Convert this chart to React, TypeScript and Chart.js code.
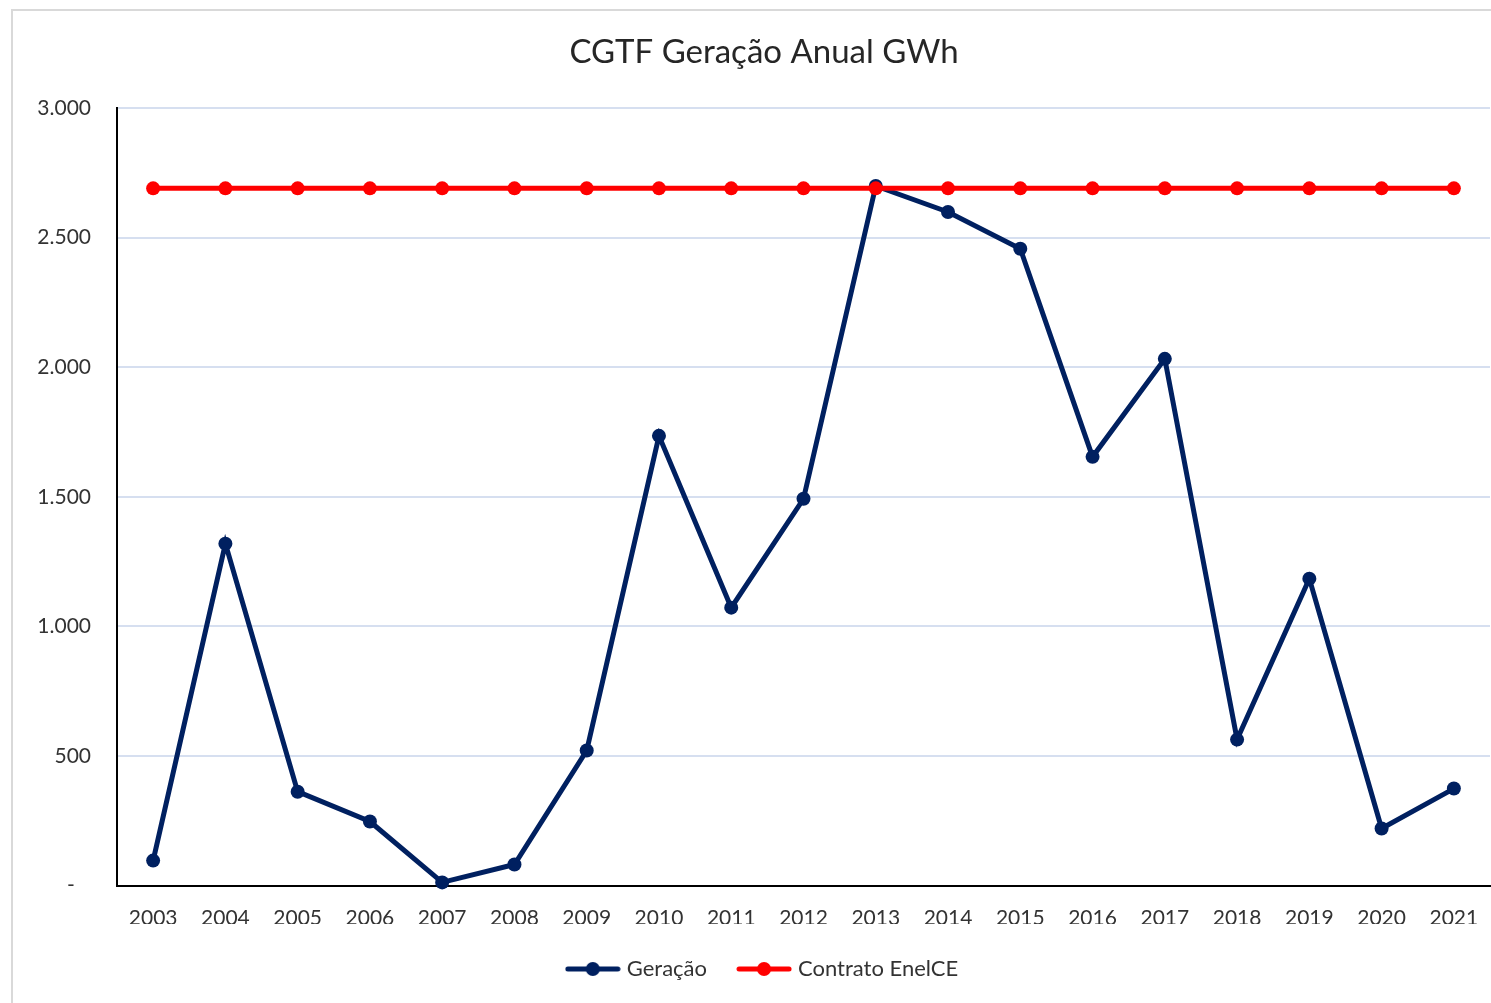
import React, { useEffect, useRef } from "react";
import { Chart, registerables } from "chart.js";

Chart.register(...registerables);

const categories = ["2003","2004","2005","2006","2007","2008","2009","2010","2011","2012","2013","2014","2015","2016","2017","2018","2019","2020","2021"];
const geracao = [96, 1319, 362, 247, 12, 81, 521, 1735, 1072, 1492, 2699, 2599, 2457, 1654, 2032, 563, 1184, 220, 374];
const contrato = [2690, 2690, 2690, 2690, 2690, 2690, 2690, 2690, 2690, 2690, 2690, 2690, 2690, 2690, 2690, 2690, 2690, 2690, 2690];
const seriesNames = ["Geração", "Contrato EnelCE"];
const seriesColors = ["#002060", "#FF0000"];
const titleText = "CGTF Geração Anual GWh";
const yMin = 0;
const yMax = 3000;
const yStep = 500;

const FONT = "Lato, 'Open Sans', sans-serif";

function fmt(v: number): string {
  if (v === 0) return "-   ";
  return String(v).replace(/\B(?=(\d{3})+(?!\d))/g, ".");
}

function makeIcon(color: string): HTMLCanvasElement {
  const c = document.createElement("canvas");
  c.width = 56;
  c.height = 16;
  const ctx = c.getContext("2d")!;
  ctx.strokeStyle = color;
  ctx.fillStyle = color;
  ctx.lineWidth = 5;
  ctx.lineCap = "round";
  ctx.beginPath();
  ctx.moveTo(3, 8);
  ctx.lineTo(53, 8);
  ctx.stroke();
  ctx.beginPath();
  ctx.arc(28, 8, 7, 0, Math.PI * 2);
  ctx.fill();
  return c;
}

export default function App() {
  const ref = useRef<HTMLCanvasElement | null>(null);

  useEffect(() => {
    if (!ref.current) return;
    const icons = seriesColors.map(makeIcon);
    const chart = new Chart(ref.current, {
      type: "line",
      data: {
        labels: categories,
        datasets: [
          {
            label: seriesNames[0],
            data: geracao,
            borderColor: seriesColors[0],
            backgroundColor: seriesColors[0],
            borderWidth: 5,
            pointRadius: 7,
            pointHoverRadius: 7,
            pointBorderWidth: 0,
            tension: 0,
            order: 1,
            clip: false as any,
          },
          {
            label: seriesNames[1],
            data: contrato,
            borderColor: seriesColors[1],
            backgroundColor: seriesColors[1],
            borderWidth: 5,
            pointRadius: 7,
            pointHoverRadius: 7,
            pointBorderWidth: 0,
            tension: 0,
            order: 0,
            clip: false as any,
          },
        ],
      },
      options: {
        responsive: false,
        animation: false,
        layout: { autoPadding: false, padding: { left: 38, right: 1, top: 0, bottom: 13 } },
        plugins: {
          title: {
            display: true,
            text: titleText,
            color: "#262626",
            font: { family: FONT, size: 33, weight: "normal" as any },
            padding: { top: 33, bottom: 35.4 },
          },
          legend: {
            display: true,
            position: "bottom",
            labels: {
              color: "#333333",
              font: { family: FONT, size: 22 },
              usePointStyle: true,
              pointStyleWidth: 46,
              padding: 34,
              generateLabels: (ch: any) =>
                ch.data.datasets.map((ds: any, i: number) => ({
                  text: ds.label,
                  fillStyle: ds.borderColor,
                  strokeStyle: ds.borderColor,
                  lineWidth: 0,
                  pointStyle: icons[i],
                  hidden: !ch.isDatasetVisible(i),
                  datasetIndex: i,
                  fontColor: "#333333",
                })),
            },
          },
          tooltip: { enabled: false },
        },
        scales: {
          x: {
            offset: true,
            grid: { display: false, drawTicks: false, offset: true },
            border: { display: true, color: "#000000", width: 2 },
            ticks: {
              color: "#333333",
              font: { family: FONT, size: 21 },
              padding: 20,
              maxRotation: 0,
              autoSkip: false,
            },
            afterFit: (s: any) => {
              s.height = 38.5;
              s.paddingLeft = 0;
              s.paddingRight = 0;
            },
          },
          y: {
            min: yMin,
            max: yMax,
            grid: { color: "#D6DFF0", lineWidth: 2, drawTicks: false },
            border: { display: true, color: "#000000", width: 2 },
            ticks: {
              stepSize: yStep,
              color: "#333333",
              font: { family: FONT, size: 21 },
              padding: 26,
              callback: (v: any) => fmt(Number(v)),
            },
            afterFit: (s: any) => {
              s.width = 79;
            },
          },
        },
      },
    });
    return () => chart.destroy();
  }, []);

  return (
    <div style={{ position: "fixed", left: 0, top: 0, width: 1491, height: 1003, overflow: "hidden", background: "#fff" }}>
      <div style={{ position: "absolute", left: 11, top: 9, width: 1500, height: 1010, border: "2px solid #D9D9D9", boxSizing: "border-box" }} />
      <canvas ref={ref} width={1491} height={1003} style={{ position: "absolute", left: 0, top: 0 }} />
    </div>
  );
}
